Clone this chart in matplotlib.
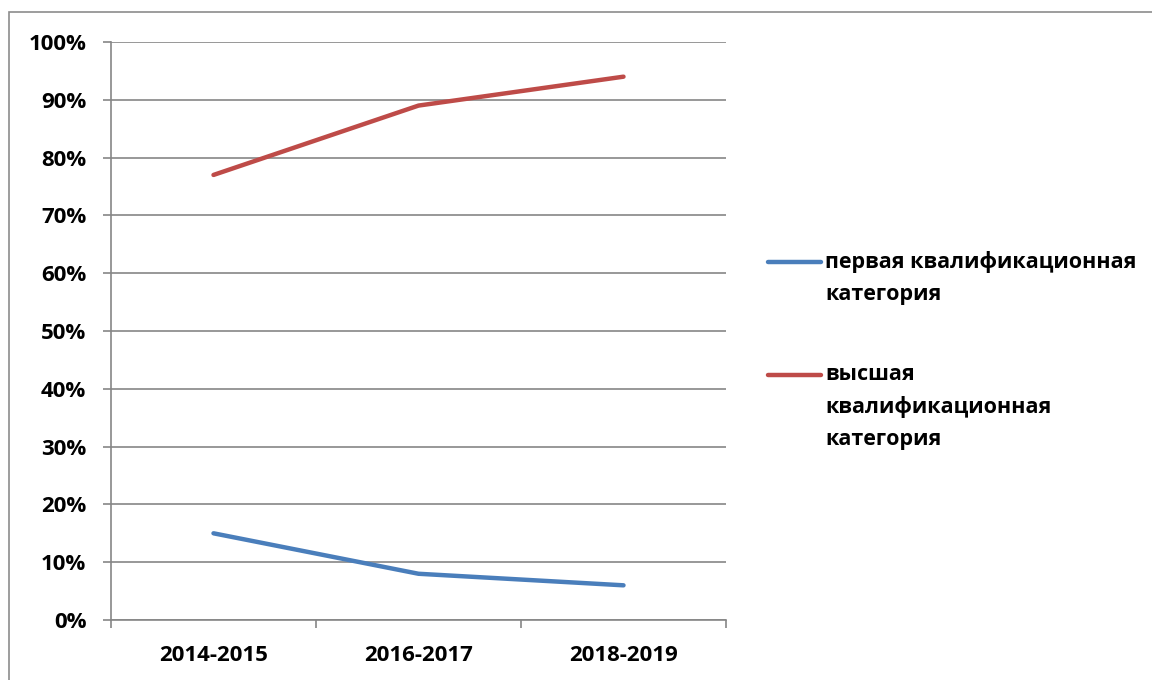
import matplotlib
matplotlib.use("Agg")
import matplotlib.pyplot as plt
from matplotlib.lines import Line2D
from matplotlib.patches import Rectangle

categories = ["2014-2015", "2016-2017", "2018-2019"]
first_cat = [15, 8, 6]
higher_cat = [77, 89, 94]
labels = ["первая квалификационная\nкатегория", "высшая\nквалификационная\nкатегория"]
yticks = [0, 10, 20, 30, 40, 50, 60, 70, 80, 90, 100]
colors = ["#4A7EBB", "#BE4B48"]

plt.rcParams['font.family'] = ['Open Sans', 'DejaVu Sans']
W, H = 1152, 680
FS = 16
FS_LEG = 15.5
fig = plt.figure(figsize=(W / 100, H / 100), dpi=100)
ax = fig.add_axes([111 / W, 1 - 620 / H, (726 - 111) / W, (620 - 42) / H])

xs = [i + 0.5 for i in range(len(categories))]
ax.plot(xs, first_cat, color=colors[0], lw=3.2, solid_capstyle='round', zorder=3)
ax.plot(xs, higher_cat, color=colors[1], lw=3.2, solid_capstyle='round', zorder=3)

ax.set_xlim(0, len(categories))
ax.set_ylim(0, 100)
ax.set_yticks(yticks)
ax.set_yticklabels([f"{v}%" for v in yticks])
ax.set_xticks(range(len(categories) + 1))
ax.set_xticklabels([])
ax.set_xticks(xs, minor=True)
ax.set_xticklabels(categories, minor=True)
ax.tick_params(axis='x', which='minor', length=0, pad=18)
ax.tick_params(axis='x', which='major', length=5.5, color='#868686', width=1.2)
ax.tick_params(axis='y', length=5.8, color='#868686', width=1.2, pad=12)
for lab in ax.get_xticklabels(minor=True) + ax.get_yticklabels():
    lab.set_fontsize(FS)
    lab.set_fontweight('bold')
    lab.set_color('black')

ax.grid(axis='y', color='#868686', lw=1.2)
ax.set_axisbelow(True)
for s in ['top', 'right']:
    ax.spines[s].set_visible(False)
for s in ['left', 'bottom']:
    ax.spines[s].set_color('#868686')
    ax.spines[s].set_linewidth(1.2)

# legend (manual)
starts = [262, 375]
step = 32.5
for lab, col, y0 in zip(labels, colors, starts):
    fig.add_artist(Line2D([768 / W, 821 / W], [1 - y0 / H] * 2, color=col, lw=3.2,
                          solid_capstyle='round'))
    for k, line in enumerate(lab.split("\n")):
        fig.text(825 / W, 1 - (y0 + k * step) / H, line, fontsize=FS_LEG,
                 fontweight='bold', va='center', ha='left')

fig.add_artist(Rectangle((9 / W, -0.1), 1.2, 1 - 12 / H + 0.1, transform=fig.transFigure,
                         fill=False, edgecolor='#8C8C8C', lw=1.2))

fig.savefig("out.png", dpi=100)
